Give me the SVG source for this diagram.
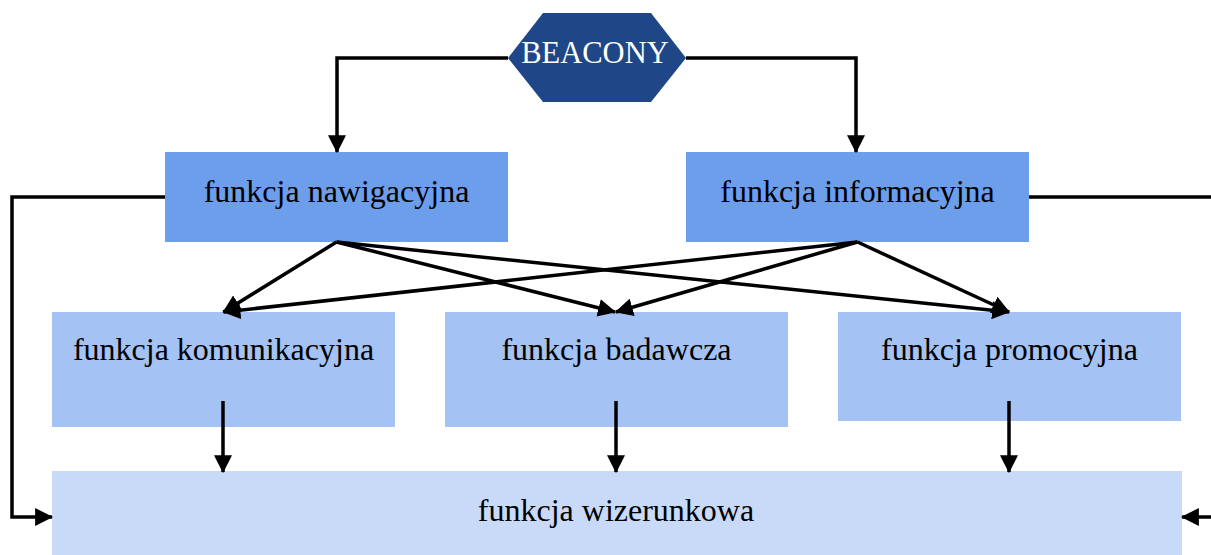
<svg xmlns="http://www.w3.org/2000/svg" width="1211" height="555" viewBox="0 0 1211 555">
<style>
.t{font-family:"Liberation Serif","Times New Roman",serif;font-size:32px;fill:#000;text-anchor:middle}
.w{fill:#fff;font-size:30.5px}
.c{fill:none;stroke:#000;stroke-width:3.5;stroke-linejoin:miter}
.a{marker-end:url(#ah)}
</style>
<defs>
<marker id="ah" markerUnits="userSpaceOnUse" markerWidth="18" markerHeight="18" viewBox="0 0 16 16" refX="15" refY="8" orient="auto">
<path d="M0,0 L16,8 L0,16 Z" fill="#000"/>
</marker>
</defs>
<rect width="1211" height="555" fill="#fff"/>
<g id="beacony">
<polygon points="543,13 651,13 686,58 651,102 543,102 508,58" fill="#1F4788"/>
<text class="t w" x="595" y="63">BEACONY</text>
</g>
<g id="nawigacyjna">
<rect x="165" y="152" width="343" height="90" fill="#6D9EEB"/>
<text class="t" x="336.5" y="202">funkcja nawigacyjna</text>
</g>
<g id="informacyjna">
<rect x="686" y="152" width="343" height="90" fill="#6D9EEB"/>
<text class="t" x="857.5" y="202">funkcja informacyjna</text>
</g>
<g id="komunikacyjna">
<rect x="52" y="312" width="343" height="115" fill="#A4C2F4"/>
<text class="t" x="223.5" y="360">funkcja komunikacyjna</text>
</g>
<g id="badawcza">
<rect x="445" y="312" width="343" height="115" fill="#A4C2F4"/>
<text class="t" x="616.5" y="360">funkcja badawcza</text>
</g>
<g id="promocyjna">
<rect x="838" y="312" width="343" height="109" fill="#A4C2F4"/>
<text class="t" x="1009.5" y="360">funkcja promocyjna</text>
</g>
<g id="wizerunkowa">
<rect x="52" y="471" width="1130" height="84" fill="#C9DAF8"/>
<text class="t" x="616" y="521">funkcja wizerunkowa</text>
</g>
<g id="connectors">
<polyline class="c a" points="508,58 337,58 337,152"/>
<polyline class="c a" points="686,58 856,58 856,152"/>
<line class="c a" x1="336.5" y1="242" x2="223.5" y2="312"/>
<line class="c a" x1="336.5" y1="242" x2="615" y2="312"/>
<line class="c a" x1="336.5" y1="242" x2="1009" y2="312"/>
<line class="c a" x1="857.5" y1="242" x2="223.5" y2="312"/>
<line class="c a" x1="857.5" y1="242" x2="616" y2="312"/>
<line class="c a" x1="857.5" y1="242" x2="1009" y2="312"/>
<line class="c a" x1="223" y1="401" x2="223" y2="472"/>
<line class="c a" x1="616" y1="401" x2="616" y2="472"/>
<line class="c a" x1="1009" y1="401" x2="1009" y2="472"/>
<polyline class="c a" points="165,197 12,197 12,517 52,517"/>
<polyline class="c a" points="1029,197 1216,197 1216,517 1182,517"/>
</g>
</svg>
